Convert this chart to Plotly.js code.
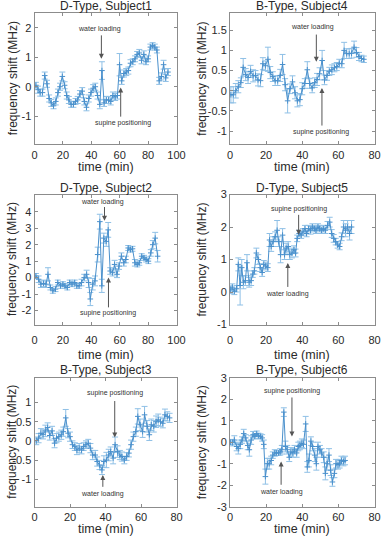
<!DOCTYPE html>
<html>
<head>
<meta charset="utf-8">
<script src="https://cdn.plot.ly/plotly-3.0.1.min.js"></script>
<style>html,body{margin:0;padding:0;background:#fff;}#chart{width:383px;height:536px;}</style>
</head>
<body>
<div id="chart"></div>
<script>
// ---------- data ----------
const xticks100 = [0, 20, 40, 60, 80, 100];
const xticks80 = [0, 20, 40, 60, 80];

// D-Type, Subject1
const s1_time = [1,2.5,4,5.6,7.2,8.8,10.3,11.8,13.4,15,16.5,18,19.6,21.2,22.7,24.2,25.8,27.4,28.9,30.4,32,33.6,35.1,36.6,38.2,39.8,41.3,42.8,44.4,46,47.5,49,50.6,52.2,53.7,55.2,56.8,58.4,59.9,61.4,63,64.6,66.1,67.6,69.2,70.8,72.3,73.8,75.4,77,78.5,80,81.6,83.2,84.7,86.2,87.8,89.4,90.9,92.4,94];
const s1_shift = [0.05,-0.1,-0.2,-0.2,0.38,0.1,-0.4,-0.55,-0.65,-0.5,-0.2,0.0,0.35,0.05,-0.3,-0.45,-0.6,-0.6,-0.5,-0.45,-0.25,-0.15,-0.5,-0.7,-0.4,-0.2,-0.05,0.0,-0.3,-0.6,0.55,-0.55,-0.45,-0.45,-0.5,-0.3,-0.35,-0.3,0.75,0.2,0.45,0.5,0.55,0.8,0.85,0.95,1.1,1.15,0.9,1.1,0.85,0.95,1.35,1.4,1.35,1.25,0.2,0.35,0.75,0.3,0.5];
const s1_err = [0.1,0.12,0.12,0.12,0.12,0.12,0.12,0.12,0.1,0.12,0.12,0.12,0.15,0.12,0.12,0.12,0.1,0.1,0.1,0.12,0.12,0.12,0.12,0.12,0.12,0.12,0.12,0.12,0.12,0.15,0.3,0.12,0.12,0.12,0.12,0.12,0.12,0.12,0.38,0.12,0.12,0.12,0.12,0.12,0.1,0.1,0.1,0.12,0.12,0.12,0.1,0.1,0.1,0.1,0.1,0.1,0.12,0.12,0.15,0.12,0.12];
const s1_yticks = [-1, 0, 1, 2];

// B-Type, Subject4
const s4_time = [0.5,1.8,3.2,4.6,6,7.3,8.7,10,11.4,12.8,14.1,15.5,16.9,18.2,19.6,21,22.3,23.7,25,26.4,27.8,29.1,30.5,31.9,33.2,34.6,36,37.3,38.7,40,41.4,42.8,44.1,45.5,46.9,48.2,49.6,51,52.3,53.7,55,56.4,57.8,59.1,60.5,61.9,63.2,64.6,66,67.3,68.7,70,71.4,72.8,74.1];
const s4_shift = [-0.1,-0.1,0.0,0.1,0.2,0.58,0.4,0.33,0.48,0.37,0.38,0.27,0.25,0.67,0.62,0.78,0.45,0.35,0.25,0.25,0.38,0.65,0.15,-0.25,0.05,0.22,-0.05,-0.25,-0.22,0.05,0.18,0.52,0.18,0.07,0.2,0.28,0.42,0.75,0.27,0.38,0.48,0.52,0.57,0.6,0.68,0.67,1.0,0.92,0.92,0.93,1.08,0.95,0.85,0.8,0.78];
const s4_err = [0.2,0.2,0.18,0.15,0.12,0.22,0.15,0.15,0.15,0.15,0.12,0.15,0.15,0.15,0.12,0.3,0.15,0.12,0.12,0.12,0.15,0.25,0.15,0.3,0.12,0.15,0.15,0.15,0.15,0.15,0.12,0.2,0.12,0.12,0.12,0.15,0.15,0.25,0.12,0.12,0.1,0.12,0.1,0.1,0.1,0.1,0.2,0.12,0.12,0.12,0.15,0.12,0.1,0.08,0.08];
const s4_yticks = [-1, -0.5, 0, 0.5, 1, 1.5];

// D-Type, Subject2
const s2_time = [1,2.9,4.5,6.4,8.1,9.5,11.2,12.9,14.8,16.4,18.3,20,21.4,23.1,24.8,26.4,28.3,29.8,31.4,33.1,35,36.7,38.1,39.3,41,42.6,44.5,46,47.4,48.8,50.5,51.9,53.3,55,56.4,58.1,59.5,61.2,62.9,64.3,66,67.6,69,70.7,72.4,73.8,75.5,77.1,78.6,80.2,81.9,83.3,85,86.7];
const s2_shift = [0.1,-0.1,-0.4,-0.35,-0.4,0.2,-0.6,-0.8,-0.7,-0.3,-0.5,-0.4,-0.5,-0.6,-0.3,-0.4,-0.3,-0.5,-0.5,-0.3,0.0,0.2,-0.3,-1.3,-0.4,-0.2,1.4,3.4,-0.5,2.4,2.2,2.9,0.4,0.3,0.8,0.2,0.7,1.3,0.9,1.1,1.8,1.7,1.75,0.9,0.8,0.9,1.3,1.2,1.1,1.0,1.5,2.0,2.4,1.3];
const s2_err = [0.15,0.2,0.2,0.2,0.2,0.4,0.15,0.15,0.15,0.15,0.15,0.15,0.15,0.15,0.15,0.15,0.15,0.15,0.15,0.2,0.2,0.25,0.3,0.4,0.35,0.3,0.45,0.45,0.4,0.3,0.3,0.45,0.2,0.2,0.25,0.2,0.2,0.2,0.2,0.2,0.15,0.15,0.15,0.2,0.15,0.15,0.15,0.15,0.15,0.15,0.2,0.25,0.35,0.35];
const s2_yticks = [-2, -1, 0, 1, 2, 3, 4];

// D-Type, Subject5
const s5_time = [0.2,1.3,2.4,3.7,4.6,5.6,6.5,7.4,8.5,9.4,10.6,11.7,12.6,13.5,14.6,15.7,16.7,17.8,18.7,19.8,20.9,21.9,22.8,23.9,25,26.1,27,28,29.1,30.2,31.1,32.2,33.1,34.3,35.4,36.3,37.2,38.3,39.4,40.4,41.5,42.4,43.5,44.6,45.6,46.7,47.6,48.7,49.6,50.7,51.7,52.8,54,55.2,56.3,57.4,58.5,59.6,60.7,61.8,62.9,64,65.1,66.2,67.3];
const s5_shift = [0.07,0.15,0.02,0.1,0.85,0.2,0.75,0.3,0.35,0.9,0.3,0.35,0.55,0.65,1.2,1.0,0.75,0.6,0.85,0.8,0.75,1.6,1.4,1.55,1.7,1.9,1.55,1.15,1.75,1.15,1.35,1.4,1.15,1.2,1.3,1.2,1.65,1.8,1.75,1.85,1.95,1.8,1.95,1.9,2.0,1.95,1.9,2.0,1.95,1.9,1.95,1.9,2.05,2.15,1.8,1.65,1.55,1.45,1.4,1.7,2.0,1.9,2.0,1.8,2.0];
const s5_err = [0.12,0.1,0.1,0.1,0.2,0.6,0.25,0.2,0.15,0.25,0.15,0.15,0.1,0.1,0.15,0.15,0.12,0.12,0.12,0.12,0.12,0.2,0.15,0.15,0.15,0.3,0.15,0.25,0.2,0.15,0.15,0.15,0.15,0.15,0.12,0.12,0.1,0.1,0.1,0.1,0.1,0.1,0.1,0.12,0.1,0.1,0.1,0.1,0.1,0.1,0.1,0.1,0.12,0.15,0.12,0.12,0.1,0.1,0.1,0.12,0.2,0.2,0.2,0.2,0.2];
const s5_yticks = [-1, 0, 1, 2, 3];

// B-Type, Subject3
const s3_time = [1,2.3,3.6,4.8,6.1,7.4,8.6,9.9,11.3,12.4,13.7,15.1,16.2,17.6,18.9,20,21.4,22.7,23.9,25.2,26.5,27.7,29,30.3,31.5,32.8,34.2,35.3,36.6,38,39.1,40.5,41.8,42.9,44.3,45.4,46.8,48.1,49.2,50.6,51.9,53.2,54.4,55.7,57.1,58.2,59.5,60.9,62,63.4,64.7,65.8,67.2,68.5,69.7,71,72.3,73.5,74.8,76.1];
const s3_shift = [0.0,0.07,0.2,0.17,0.26,0.35,0.14,0.26,-0.06,0.07,0.11,0.16,0.24,0.6,0.2,0.11,-0.1,-0.15,-0.24,-0.19,-0.24,-0.15,-0.1,-0.06,-0.19,-0.37,-0.37,-0.54,-0.63,-0.76,-0.54,-0.5,-0.37,-0.28,-0.45,-0.1,-0.28,-0.37,-0.41,-0.5,-0.41,-0.32,-0.1,0.11,0.24,0.64,0.42,0.24,0.68,0.38,0.16,0.42,0.38,0.5,0.55,0.5,0.46,0.68,0.64,0.6];
const s3_err = [0.1,0.12,0.12,0.12,0.15,0.12,0.12,0.12,0.12,0.12,0.12,0.12,0.12,0.22,0.12,0.12,0.1,0.1,0.12,0.12,0.1,0.1,0.1,0.1,0.12,0.12,0.12,0.12,0.12,0.12,0.15,0.2,0.15,0.12,0.15,0.2,0.15,0.12,0.12,0.1,0.1,0.1,0.12,0.12,0.12,0.2,0.15,0.15,0.22,0.15,0.15,0.15,0.15,0.15,0.15,0.12,0.12,0.15,0.12,0.12];
const s3_yticks = [-1, -0.5, 0, 0.5, 1];

// B-Type, Subject6
const s6_time = [0.2,1.3,2.4,3.7,4.6,5.7,6.7,7.6,8.7,9.8,10.7,11.7,12.8,13.7,14.8,15.7,16.9,17.8,18.7,19.6,20.7,21.7,22.8,23.7,24.8,25.7,26.9,27.8,28.7,29.8,30.7,31.7,32.8,33.7,34.8,35.7,36.9,37.8,38.7,39.8,40.7,41.9,42.8,43.7,44.8,45.7,46.9,47.8,48.7,49.8,50.7,51.9,52.8,53.7,54.8,55.7,56.7,57.8,58.7,59.8,60.7,61.7,62.8,63.7];
const s6_shift = [0.0,-0.02,0.1,-0.2,-0.3,-0.1,0.1,0.4,0.2,-0.15,-0.35,0.1,0.35,0.27,0.4,0.3,0.27,0.2,-0.1,-1.6,-1.0,-1.0,-0.85,-0.6,-0.5,-0.5,-0.5,-0.45,-0.35,1.4,-0.2,-0.35,-0.7,-0.45,-0.5,-0.35,-0.5,-0.2,-0.15,-0.05,-0.1,0.85,-1.15,-0.85,0.05,-0.2,-0.6,-1.0,-0.2,-0.35,-0.5,-0.7,-1.45,-1.0,-0.6,-1.3,-1.85,-1.45,-1.0,-1.05,-1.0,-0.85,-0.9,-0.85];
const s6_err = [0.12,0.15,0.2,0.2,0.25,0.2,0.15,0.2,0.15,0.2,0.3,0.2,0.15,0.12,0.12,0.12,0.12,0.15,0.2,0.35,0.25,0.25,0.2,0.15,0.15,0.12,0.12,0.15,0.2,0.2,0.25,0.2,0.2,0.2,0.2,0.2,0.2,0.2,0.2,0.2,0.2,0.35,0.25,0.3,0.2,0.2,0.3,0.3,0.2,0.2,0.2,0.25,0.3,0.3,0.3,0.25,0.2,0.2,0.2,0.2,0.2,0.2,0.2,0.2];
const s6_yticks = [-3, -2, -1, 0, 1, 2, 3];

const titles = ['D-Type, Subject1', 'B-Type, Subject4', 'D-Type, Subject2', 'D-Type, Subject5', 'B-Type, Subject3', 'B-Type, Subject6'];
const xTitle = 'time (min)';
const yTitle = 'frequency shift (MHz)';

// ---------- layout configuration (pixels of the 383x536 figure) ----------
const W = 383, H = 536;
const cols = [[34.5, 176.5], [230, 374.5]];
const rows = [[13.3, 144], [194.5, 324.5], [377.7, 506.7]];
const titleY = [6.5, 188, 370];
const xlabY = [167, 355, 528.5];
const ylabX = [12.5, 202];
const xTickPad = [1, 5, 0];

const panels = [
  {t: s1_time, v: s1_shift, e: s1_err, xt: xticks100, xr: [0, 100], yt: s1_yticks, yr: [-1.95, 2.5], r: 0, c: 0,
   notes: [{txt: 'water loading', tx: 46, ty: 1.96, hx: 47.1, hy: 0.95, ay: 1.8},
           {txt: 'supine positioning', tx: 62.4, ty: -1.22, hx: 60.7, hy: -0.03, ay: -1.07}]},
  {t: s4_time, v: s4_shift, e: s4_err, xt: xticks80, xr: [0, 80], yt: s4_yticks, yr: [-1.32, 1.92], r: 0, c: 1,
   notes: [{txt: 'water loading', tx: 45.9, ty: 1.57, hx: 47.8, hy: 0.72, ay: 1.43},
           {txt: 'supine positioning', tx: 50.5, ty: -1.02, hx: 50.9, hy: 0.07, ay: -0.9}]},
  {t: s2_time, v: s2_shift, e: s2_err, xt: xticks100, xr: [0, 100], yt: s2_yticks, yr: [-2.85, 5.05], r: 1, c: 0,
   notes: [{txt: 'water loading', tx: 48.1, ty: 4.62, hx: 49.3, hy: 3.45, ay: 4.38},
           {txt: 'supine positioning', tx: 52.1, ty: -2.17, hx: 52.1, hy: 0.0, ay: -1.9}]},
  {t: s5_time, v: s5_shift, e: s5_err, xt: xticks80, xr: [0, 80], yt: s5_yticks, yr: [-1, 3], r: 1, c: 1,
   notes: [{txt: 'supine positioning', tx: 38, ty: 2.55, hx: 38, hy: 1.76, ay: 2.42},
           {txt: 'water loading', tx: 32, ty: -0.06, hx: 32, hy: 0.89, ay: 0.11}]},
  {t: s3_time, v: s3_shift, e: s3_err, xt: xticks80, xr: [0, 80], yt: s3_yticks, yr: [-1.72, 1.65], r: 2, c: 0,
   notes: [{txt: 'supine positioning', tx: 45.2, ty: 1.25, hx: 45.2, hy: 0.09, ay: 1.08},
           {txt: 'water loading', tx: 38.5, ty: -1.4, hx: 38.5, hy: -0.89, ay: -1.24}]},
  {t: s6_time, v: s6_shift, e: s6_err, xt: xticks80, xr: [0, 80], yt: s6_yticks, yr: [-3, 3], r: 2, c: 1,
   notes: [{txt: 'supine positioning', tx: 34.3, ty: 2.36, hx: 34.3, hy: 0.27, ay: 2.15},
           {txt: 'water loading', tx: 28.3, ty: -2.33, hx: 28.3, hy: -0.9, ay: -2.05}]}
];

const FONT = 'Liberation Sans, Arial, Helvetica, sans-serif';
const AX = '#8c8c8c';
const TXT = '#2a2a2a';
const LINE = '#4a90cc';
const BAR = '#8fc0e6';

const traces = [];
const layout = {
  width: W, height: H, margin: {l: 0, r: 0, t: 0, b: 0},
  paper_bgcolor: '#fff', plot_bgcolor: '#fff', showlegend: false,
  font: {family: FONT, color: TXT}, annotations: []
};

panels.forEach((p, i) => {
  const n = i === 0 ? '' : String(i + 1);
  const xa = 'x' + n, ya = 'y' + n;
  traces.push({
    type: 'scatter', mode: 'lines+markers', x: p.t, y: p.v, xaxis: xa, yaxis: ya,
    line: {color: LINE, width: 1},
    marker: {symbol: 'cross-thin', size: 4, color: LINE, line: {width: 1, color: LINE}},
    error_y: {type: 'data', array: p.e, visible: true, color: BAR, thickness: 1, width: 3},
    hoverinfo: 'skip'
  });
  const cx = cols[p.c], ry = rows[p.r];
  const common = {
    ticks: 'inside', ticklen: 3, tickcolor: AX, tickwidth: 1,
    showline: true, linecolor: AX, linewidth: 1, mirror: 'allticks',
    showgrid: false, zeroline: false, fixedrange: true,
    tickfont: {size: 11, color: TXT, family: FONT}, tickmode: 'array'
  };
  layout['xaxis' + n] = Object.assign({}, common, {
    domain: [cx[0] / W, cx[1] / W], range: p.xr, anchor: ya,
    tickvals: p.xt, ticktext: p.xt.map(String), ticklabelstandoff: xTickPad[p.r]
  });
  layout['yaxis' + n] = Object.assign({}, common, {
    domain: [1 - ry[1] / H, 1 - ry[0] / H], range: p.yr, anchor: xa,
    tickvals: p.yt, ticktext: p.yt.map(String)
  });
  layout.annotations.push({xref: 'paper', yref: 'paper', x: (cx[0] + cx[1]) / 2 / W, y: 1 - titleY[p.r] / H,
    xanchor: 'center', yanchor: 'middle', text: titles[i], showarrow: false, font: {size: 12, color: TXT}});
  layout.annotations.push({xref: 'paper', yref: 'paper', x: (cx[0] + cx[1]) / 2 / W, y: 1 - xlabY[p.r] / H,
    xanchor: 'center', yanchor: 'middle', text: xTitle, showarrow: false, font: {size: 12.5, color: TXT}});
  layout.annotations.push({xref: 'paper', yref: 'paper', x: ylabX[p.c] / W, y: 1 - (ry[0] + ry[1]) / 2 / H,
    xanchor: 'center', yanchor: 'middle', text: yTitle, textangle: -90, showarrow: false, font: {size: 12, color: TXT}});
  p.notes.forEach(a => {
    layout.annotations.push({xref: xa, yref: ya, x: a.tx, y: a.ty, text: a.txt, showarrow: false,
      xanchor: 'center', yanchor: 'middle', font: {size: 7, color: '#333'}});
    layout.annotations.push({xref: xa, yref: ya, axref: xa, ayref: ya, x: a.hx, y: a.hy, ax: a.hx, ay: a.ay,
      text: '', showarrow: true, arrowhead: 2, arrowsize: 1, arrowwidth: 1, arrowcolor: '#555', standoff: 0});
  });
});

Plotly.newPlot('chart', traces, layout, {staticPlot: true, displayModeBar: false});
</script>
</body>
</html>
